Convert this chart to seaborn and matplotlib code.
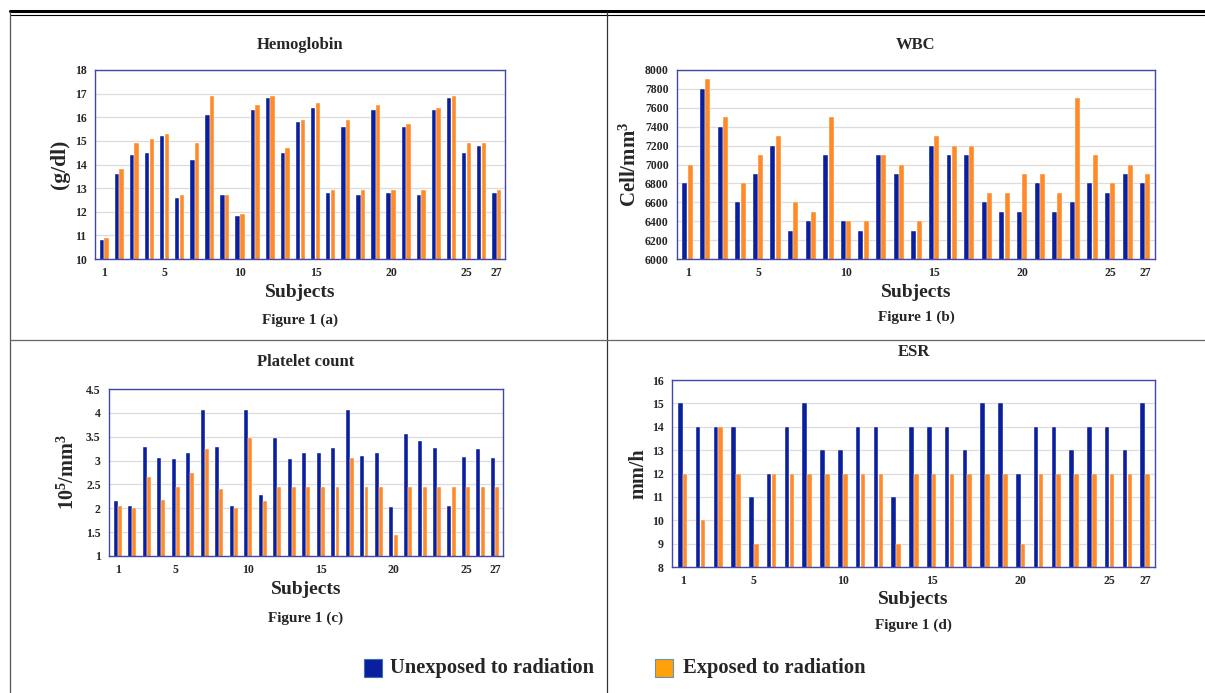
import numpy as np
import pandas as pd
import seaborn as sns
import matplotlib.pyplot as plt
from matplotlib.lines import Line2D
from matplotlib.patches import Rectangle

# Subjects 1..27
subjects = list(range(1, 28))

# Figure 1 (a) Hemoglobin (g/dl)
hb_unexp = [10.8, 13.6, 14.4, 14.5, 15.2, 12.6, 14.2, 16.1, 12.7, 11.8, 16.3, 16.8, 14.5, 15.8,
            16.4, 12.8, 15.6, 12.7, 16.3, 12.8, 15.6, 12.7, 16.3, 16.8, 14.5, 14.8, 12.8]
hb_exp = [10.9, 13.8, 14.9, 15.1, 15.3, 12.7, 14.9, 16.9, 12.7, 11.9, 16.5, 16.9, 14.7, 15.9,
          16.6, 12.9, 15.9, 12.9, 16.5, 12.9, 15.7, 12.9, 16.4, 16.9, 14.9, 14.9, 12.9]

# Figure 1 (b) WBC (cell/mm3)
wbc_unexp = [6800, 7800, 7400, 6600, 6900, 7200, 6300, 6400, 7100, 6400, 6300, 7100, 6900, 6300,
             7200, 7100, 7100, 6600, 6500, 6500, 6800, 6500, 6600, 6800, 6700, 6900, 6800]
wbc_exp = [7000, 7900, 7500, 6800, 7100, 7300, 6600, 6500, 7500, 6400, 6400, 7100, 7000, 6400,
           7300, 7200, 7200, 6700, 6700, 6900, 6900, 6700, 7700, 7100, 6800, 7000, 6900]

# Figure 1 (c) Platelet count (10^5/mm3)
plt_unexp = [2.15, 2.05, 3.28, 3.05, 3.03, 3.15, 4.05, 3.28, 2.05, 4.05, 2.28, 3.47, 3.03, 3.15,
             3.15, 3.27, 4.05, 3.1, 3.15, 2.03, 3.55, 3.4, 3.27, 2.05, 3.07, 3.25, 3.05]
plt_exp = [2.05, 2.0, 2.65, 2.17, 2.45, 2.75, 3.25, 2.4, 2.0, 3.47, 2.15, 2.45, 2.45, 2.45,
           2.45, 2.45, 3.05, 2.45, 2.45, 1.45, 2.45, 2.45, 2.45, 2.45, 2.45, 2.45, 2.45]

# Figure 1 (d) ESR (mm/h)
esr_unexp = [15, 14, 14, 14, 11, 12, 14, 15, 13, 13, 14, 14, 11, 14,
             14, 14, 13, 15, 15, 12, 14, 14, 13, 14, 14, 13, 15]
esr_exp = [12, 10, 14, 12, 9, 12, 12, 12, 12, 12, 12, 12, 9, 12,
           12, 12, 12, 12, 12, 9, 12, 12, 12, 12, 12, 12, 12]

tick_pos = [0, 4, 9, 14, 19, 24, 26]
tick_lab = ['1', '5', '10', '15', '20', '25', '27']

BLUE = '#0a1f9e'
ORANGE = '#ff8a2a'

sns.set_theme(style='white')
plt.rcParams['font.family'] = ['Liberation Serif', 'DejaVu Serif']
plt.rcParams['font.weight'] = 'bold'
plt.rcParams['mathtext.fontset'] = 'custom'
plt.rcParams['mathtext.rm'] = 'Liberation Serif:bold'
plt.rcParams['mathtext.bf'] = 'Liberation Serif:bold'
plt.rcParams['mathtext.default'] = 'rm'

W, H = 1205, 693
fig = plt.figure(figsize=(W / 100, H / 100), dpi=100)


def fx(x):
    return x / W


def fy(y):
    return 1 - y / H


def panel(box, unexp, exp, ylim, yticks, ytlabels, title, title_y, ylabel, ylab_x, ylab_size,
          subj_y, figlab, figlab_y, width):
    l, t, r, b = box
    ax = fig.add_axes([fx(l), fy(b), (r - l) / W, (b - t) / H])
    df = pd.DataFrame({'Subject': subjects * 2,
                       'Value': unexp + exp,
                       'Group': ['Unexposed'] * 27 + ['Exposed'] * 27})
    sns.barplot(data=df, x='Subject', y='Value', hue='Group', palette=[BLUE, ORANGE],
                width=width, gap=0.06, saturation=1, legend=False, ax=ax,
                edgecolor='white', linewidth=0.3)
    ax.set_ylim(*ylim)
    ax.set_xlim(-0.6, 26.55)
    ax.set_yticks(yticks)
    ax.set_yticklabels(ytlabels)
    ax.set_xticks(tick_pos)
    ax.set_xticklabels(tick_lab)
    ax.tick_params(length=0, labelsize=8.5, pad=6)
    for lb in ax.get_xticklabels() + ax.get_yticklabels():
        lb.set_fontweight('bold')
    ax.set_xlabel('')
    ax.set_ylabel('')
    ax.yaxis.grid(True, color='#dcdcdc', lw=0.9)
    ax.set_axisbelow(True)
    for sp in ax.spines.values():
        sp.set_color('#4048a8')
        sp.set_linewidth(1.0)
    cx = (l + r) / 2
    fig.text(fx(cx), fy(title_y), title, ha='center', va='center', fontsize=12, fontweight='bold')
    fig.text(fx(ylab_x), fy((t + b) / 2), ylabel, ha='center', va='center', rotation=90,
             fontsize=ylab_size, fontweight='bold')
    fig.text(fx(cx), fy(subj_y), 'Subjects', ha='center', va='center', fontsize=14, fontweight='bold')
    fig.text(fx(cx), fy(figlab_y), figlab, ha='center', va='center', fontsize=11, fontweight='bold')
    return ax


panel((95, 70, 505, 259), hb_unexp, hb_exp, (10, 18), range(10, 19), [str(v) for v in range(10, 19)],
      'Hemoglobin', 45, '(g/dl)', 60, 15.5, 293, 'Figure 1 (a)', 320, 0.62)
panel((677, 70, 1155, 259), wbc_unexp, wbc_exp, (6000, 8000), range(6000, 8001, 200),
      [str(v) for v in range(6000, 8001, 200)],
      'WBC', 45, r'Cell/mm$^{3}$', 630, 15, 293, 'Figure 1 (b)', 317, 0.6)
plt_ticks = [1, 1.5, 2, 2.5, 3, 3.5, 4, 4.5]
panel((109, 389, 503, 556), plt_unexp, plt_exp, (1, 4.5), plt_ticks, ['%g' % v for v in plt_ticks],
      'Platelet count', 362, r'10$^{5}$/mm$^{3}$', 68, 14.5, 590, 'Figure 1 (c)', 618, 0.58)
panel((672, 380, 1155, 567), esr_unexp, esr_exp, (8, 16), range(8, 17), [str(v) for v in range(8, 17)],
      'ESR', 352, 'mm/h', 638, 14.5, 600, 'Figure 1 (d)', 625, 0.55)

# table borders
fig.add_artist(Line2D([fx(10), 1], [fy(11), fy(11)], color='black', lw=2.2))
fig.add_artist(Line2D([fx(10), 1], [fy(14.5), fy(14.5)], color='black', lw=0.8))
fig.add_artist(Line2D([fx(10), fx(10)], [fy(12), 0], color='#555555', lw=0.9))
fig.add_artist(Line2D([fx(607), fx(607)], [fy(12), 0], color='#333333', lw=0.9))
fig.add_artist(Line2D([fx(10), 1], [fy(340), fy(340)], color='#666666', lw=0.9))

# legend
fig.add_artist(Rectangle((fx(364), fy(677)), 18 / W, 18 / H, facecolor=BLUE, edgecolor='#3a6fb0', lw=0.8))
fig.text(fx(390), fy(668), 'Unexposed to radiation', ha='left', va='center', fontsize=14.8, fontweight='bold')
fig.add_artist(Rectangle((fx(655), fy(677)), 18 / W, 18 / H, facecolor='#ffa20a', edgecolor='#6a8fb0', lw=0.8))
fig.text(fx(683), fy(668), 'Exposed to radiation', ha='left', va='center', fontsize=14.8, fontweight='bold')

fig.savefig('out.png', dpi=100)
